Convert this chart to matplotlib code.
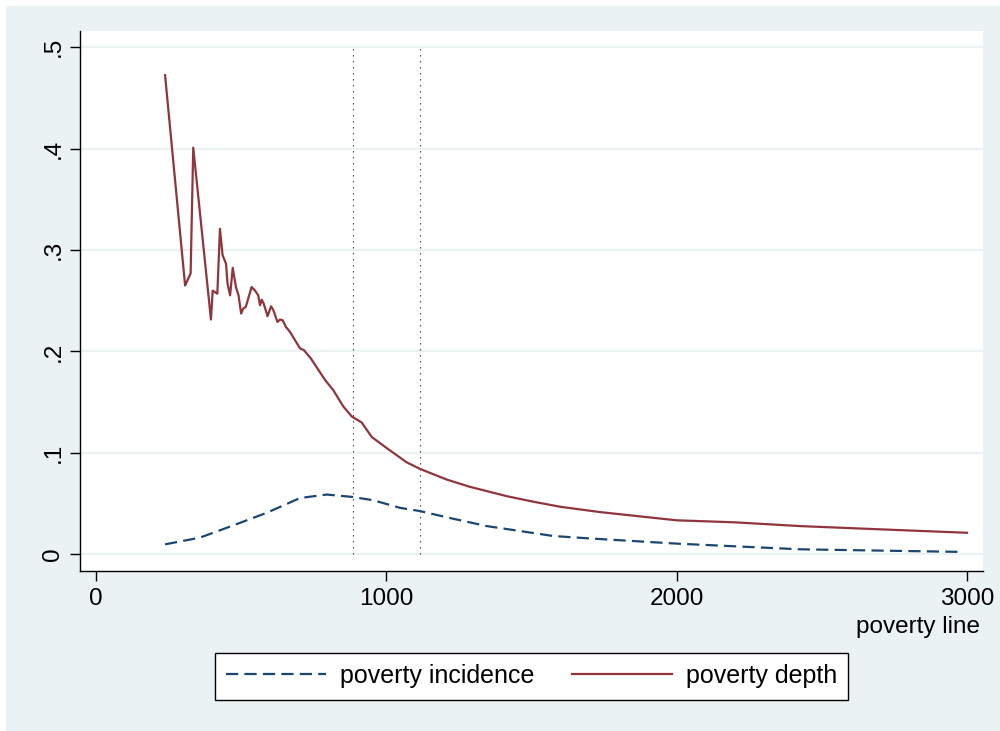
import matplotlib
matplotlib.use("Agg")
import matplotlib.pyplot as plt
from matplotlib.patches import Rectangle

plt.rcParams['font.family'] = ['Liberation Sans', 'DejaVu Sans']

# Poverty depth by poverty line
depth_x = [238, 307, 326, 335, 396, 402, 418, 427, 436, 448, 453, 462, 471, 482,
           491, 500, 507, 516, 536, 548, 559, 565, 571, 578, 591, 603, 611, 625,
           634, 643, 654, 668, 682, 703, 716, 740, 789, 817, 852, 881, 915, 950,
           1001, 1070, 1116, 1208, 1288, 1415, 1507, 1598, 1736, 2000, 2200, 2425,
           2700, 3000]
depth_y = [0.4725, 0.265, 0.277, 0.401, 0.2315, 0.260, 0.257, 0.321, 0.295, 0.2865,
           0.267, 0.2554, 0.2825, 0.2636, 0.2554, 0.2374, 0.2423, 0.244, 0.2636,
           0.260, 0.2554, 0.2456, 0.251, 0.247, 0.2348, 0.2446, 0.2407, 0.2292,
           0.2315, 0.2308, 0.2243, 0.2194, 0.2128, 0.203, 0.2014, 0.1932, 0.1719,
           0.162, 0.1457, 0.1359, 0.130, 0.1156, 0.1048, 0.0907, 0.0842, 0.0737,
           0.0665, 0.0573, 0.0518, 0.0469, 0.0416, 0.0335, 0.0315, 0.0278, 0.0246,
           0.0212]

# Poverty incidence by poverty line
inc_x = [238, 358, 473, 588, 703, 795, 881, 955, 1047, 1116, 1231, 1346, 1461,
         1575, 1713, 2000, 2425, 2988]
inc_y = [0.0098, 0.0164, 0.0285, 0.0409, 0.0555, 0.0589, 0.0566, 0.0533, 0.0458,
         0.0426, 0.035, 0.0278, 0.0229, 0.018, 0.0154, 0.0105, 0.0049, 0.0023]

ref_lines = [885, 1116]
x_ticks = [0, 1000, 2000, 3000]
y_ticks = [0, 0.1, 0.2, 0.3, 0.4, 0.5]
y_ticklabels = ['0', '.1', '.2', '.3', '.4', '.5']

BG = '#EAF2F3'
NAVY = '#1A476F'
MAROON = '#90353B'

fig = plt.figure(figsize=(10, 7.31), dpi=100)
fig.patch.set_facecolor('white')
fig.patches.append(Rectangle((6 / 1000, 0), 1, 1 - 6 / 731, transform=fig.transFigure,
                             facecolor=BG, edgecolor='none', zorder=-10))

ax = fig.add_axes([0.080, 1 - 571 / 731, (983 - 80) / 1000, (571 - 31) / 731])
ax.set_facecolor('white')
ax.set_xlim(-55, 3055)
ax.set_ylim(-0.0165, 0.5161)

for s in ['top', 'right']:
    ax.spines[s].set_visible(False)
for s in ['left', 'bottom']:
    ax.spines[s].set_color('black')
    ax.spines[s].set_linewidth(1.0)

ax.set_yticks(y_ticks)
ax.set_yticklabels(y_ticklabels, rotation=90, va='center')
ax.set_xticks(x_ticks)
ax.set_xticklabels([str(v) for v in x_ticks])
ax.tick_params(axis='both', length=7.2, width=1.0, color='black', labelsize=17.5)
ax.tick_params(axis='y', pad=4)
ax.tick_params(axis='x', pad=5)

ax.yaxis.grid(True, color=BG, linewidth=1.6)
ax.set_axisbelow(True)

ax.vlines(ref_lines, 0, 0.5, colors='#333333', linewidth=0.8,
          linestyles=(0, (1.2, 4.2)), zorder=2)

l1, = ax.plot(inc_x, inc_y, color=NAVY, linewidth=1.6, linestyle=(0, (5.5, 2.8)),
              label='poverty incidence', zorder=3)
l2, = ax.plot(depth_x, depth_y, color=MAROON, linewidth=1.6,
              label='poverty depth', zorder=3)

fig.text(0.980, 1 - 633 / 731, 'poverty line', ha='right', va='baseline', fontsize=17.5)

leg = fig.legend(handles=[l1, l2], loc='center', bbox_to_anchor=(0.5315, 0.0752),
                 ncol=2, fontsize=18, frameon=True, fancybox=False, shadow=False,
                 handlelength=4.0, handletextpad=0.55, columnspacing=1.5,
                 borderpad=0.46)
fr = leg.get_frame()
fr.set_edgecolor('black')
fr.set_linewidth(1.0)
fr.set_facecolor('white')
fr.set_alpha(1)

fig.savefig('out.png', dpi=100, facecolor=fig.get_facecolor())
